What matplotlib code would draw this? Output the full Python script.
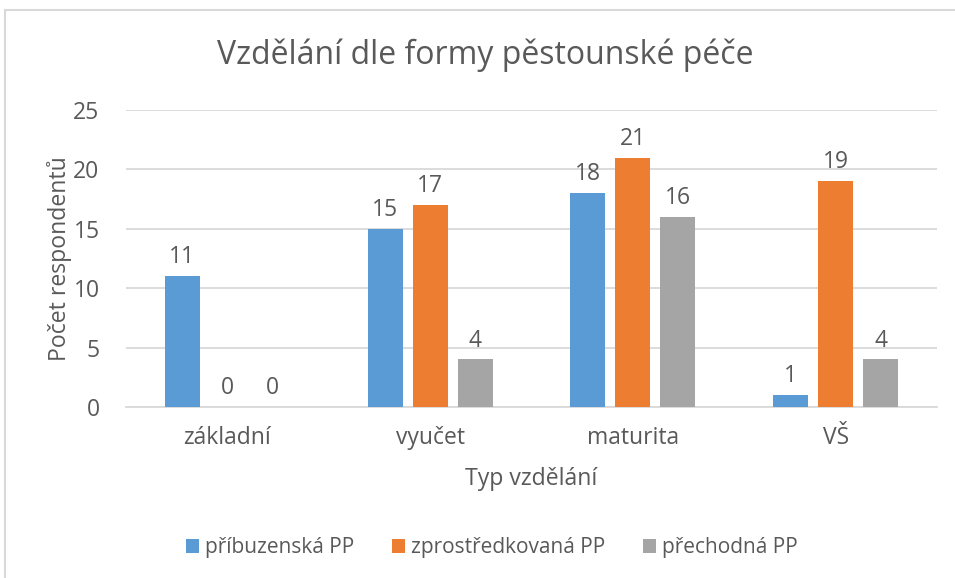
import numpy as np
import matplotlib.pyplot as plt
from matplotlib.patches import Rectangle

# data
kategorie = ["základní", "vyučet", "maturita", "VŠ"]
pribuzenska = [11, 15, 18, 1]
zprostredkovana = [0, 17, 21, 19]
prechodna = [0, 4, 16, 4]
serie = ["příbuzenská PP", "zprostředkovaná PP", "přechodná PP"]

barvy = ["#5B9BD5", "#ED7D31", "#A5A5A5"]
text_barva = "#595959"

plt.rcParams["font.family"] = ["Open Sans", "DejaVu Sans"]

fig = plt.figure(figsize=(9.55, 5.78), dpi=100)
ax = fig.add_axes([126 / 955, 1 - 407 / 578, 811 / 955, 297 / 578])

# ramecek grafu (pravy a spodni okraj je mimo obrazek)
fig.patches.append(Rectangle((5 / 955, -0.1), 1.0, 1.1 - 10.5 / 578,
                             transform=fig.transFigure, fill=False,
                             edgecolor="#D9D9D9", linewidth=1.5))

x = np.arange(len(kategorie))
sirka = 0.173
posun = 0.222
for i, hodnoty in enumerate([pribuzenska, zprostredkovana, prechodna]):
    sloupce = ax.bar(x + (i - 1) * posun, hodnoty, sirka, color=barvy[i],
                     label=serie[i], zorder=3)
    ax.bar_label(sloupce, padding=5, fontsize=16.5, color=text_barva)

ax.set_xlim(-0.5, len(kategorie) - 0.5)
ax.set_ylim(0, 25)
ax.set_yticks(range(0, 26, 5))
ax.set_xticks(x, kategorie)
ax.yaxis.grid(True, color="#D9D9D9", linewidth=1.3, zorder=0)
for s in ["top", "right", "left"]:
    ax.spines[s].set_visible(False)
ax.spines["bottom"].set_color("#D9D9D9")
ax.spines["bottom"].set_linewidth(1.3)
ax.tick_params(length=0, labelsize=16.5, labelcolor=text_barva)
ax.tick_params(axis="y", pad=19)
ax.tick_params(axis="x", pad=14)

fig.text(485 / 955, 1 - 55 / 578, "Vzdělání dle formy pěstounské péče",
         fontsize=23, color=text_barva, ha="center", va="center")
ax.set_ylabel("Počet respondentů", fontsize=16.6, color=text_barva, labelpad=1)
ax.set_xlabel("Typ vzdělání", fontsize=16.6, color=text_barva, labelpad=12)

fig.legend(loc="center", bbox_to_anchor=(492 / 955, 1 - 548 / 578), ncol=3,
           frameon=False, fontsize=15, labelcolor=text_barva,
           handlelength=0.62, handleheight=0.62, handletextpad=0.3,
           columnspacing=1.8)

fig.savefig("out.png", dpi=100)
